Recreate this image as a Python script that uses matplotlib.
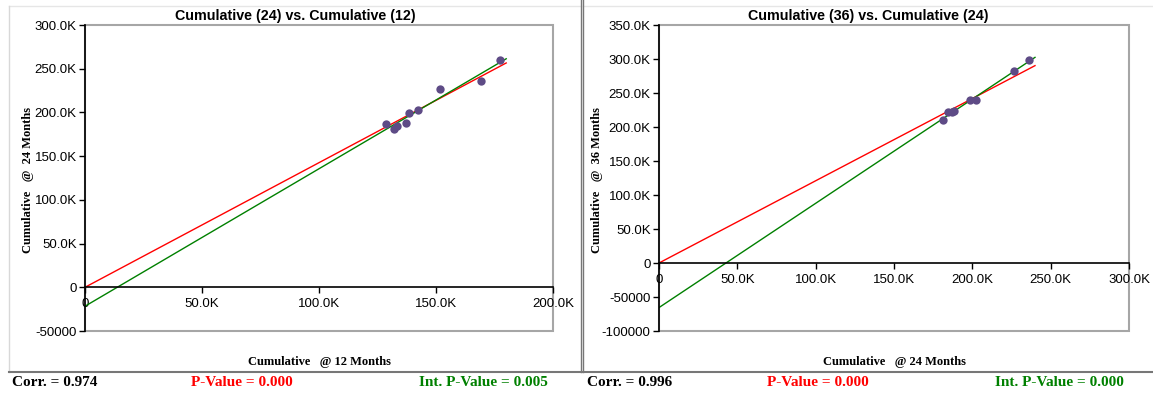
import numpy as np
import matplotlib
matplotlib.use("Agg")
import matplotlib.pyplot as plt
from matplotlib.patches import Rectangle
from matplotlib.ticker import FuncFormatter

# Left panel: cumulative @12 vs @24 months
x12 = [128.5e3, 132.1e3, 133.3e3, 137.2e3, 138.5e3, 142.5e3, 151.6e3, 169.1e3, 177.3e3]
y24 = [186.8e3, 181.5e3, 184.2e3, 188.0e3, 198.8e3, 202.6e3, 226.8e3, 236.0e3, 260.4e3]

# Right panel: cumulative @24 vs @36 months
x24 = [181.5e3, 184.2e3, 186.8e3, 188.0e3, 198.8e3, 202.6e3, 226.8e3, 236.0e3]
y36 = [209.8e3, 221.5e3, 222.5e3, 223.0e3, 239.0e3, 240.0e3, 282.0e3, 298.0e3]

titles = ["Cumulative (24) vs. Cumulative (12)", "Cumulative (36) vs. Cumulative (24)"]
xlabels = ["Cumulative   @ 12 Months", "Cumulative   @ 24 Months"]
ylabels = ["Cumulative   @  24 Months", "Cumulative   @  36 Months"]
corr_txt = ["Corr. = 0.974", "Corr. = 0.996"]
pval_txt = ["P-Value = 0.000", "P-Value = 0.000"]
ipval_txt = ["Int. P-Value = 0.005", "Int. P-Value = 0.000"]
fit_xmax = [180e3, 240e3]
ylims = [(-50e3, 300e3), (-100e3, 350e3)]
xlims = [(0, 200e3), (0, 300e3)]

W, H = 1153, 393
fig = plt.figure(figsize=(W / 100, H / 100), dpi=100)

def fx(px):
    return px / W

def fy(py):
    return 1 - py / H

def kfmt(v, pos):
    if v == 0:
        return "0"
    if v < 0:
        return f"{v:.0f}"
    return f"{v/1000:.1f}K"

axes_px = [(85, 553), (659, 1129)]
panel_px = [(9, 581), (583, 1153)]
TOP, BOT = 25, 331
data = [(x12, y24), (x24, y36)]

# panel frames
fig.add_artist(plt.Line2D([fx(9), fx(581)], [fy(6), fy(6)], color="#e6e6e6", lw=1))
fig.add_artist(plt.Line2D([fx(583), fx(1153)], [fy(6), fy(6)], color="#e6e6e6", lw=1))
fig.add_artist(plt.Line2D([fx(9), fx(9)], [fy(6), fy(372)], color="#d8d8d8", lw=1))
fig.add_artist(plt.Line2D([fx(580.5), fx(580.5)], [fy(0), fy(372)], color="#777777", lw=1))
fig.add_artist(plt.Line2D([fx(583.5), fx(583.5)], [fy(0), fy(372)], color="#777777", lw=1))
fig.add_artist(plt.Line2D([fx(9), fx(580.5)], [fy(372), fy(372)], color="#777777", lw=1.5))
fig.add_artist(plt.Line2D([fx(583.5), fx(1153)], [fy(372), fy(372)], color="#777777", lw=1.5))

stat_x = [(12, 191, 419), (587, 767, 995)]

for i in range(2):
    x0, x1 = axes_px[i]
    ax = fig.add_axes([fx(x0), fy(BOT), fx(x1 - x0), (BOT - TOP) / H])
    xs = np.array(data[i][0])
    ys = np.array(data[i][1])

    # regression lines: through origin (red) and with intercept (green)
    b0 = np.sum(xs * ys) / np.sum(xs * xs)
    b1, a1 = np.polyfit(xs, ys, 1)
    xl = np.array([0, fit_xmax[i]])
    ax.plot(xl, b0 * xl, color="#ff0000", lw=1, zorder=2)
    ax.plot(xl, a1 + b1 * xl, color="#008000", lw=1, zorder=2)
    ax.scatter(xs, ys, s=36, color="#5e4b86", zorder=3, linewidths=0)

    ax.set_xlim(*xlims[i])
    ax.set_ylim(*ylims[i])
    ax.set_xticks(np.arange(0, xlims[i][1] + 1, 50e3))
    ax.set_yticks(np.arange(ylims[i][0], ylims[i][1] + 1, 50e3))
    ax.xaxis.set_major_formatter(FuncFormatter(kfmt))
    ax.yaxis.set_major_formatter(FuncFormatter(kfmt))

    for s in ["top", "right"]:
        ax.spines[s].set_visible(False)
    ax.spines["left"].set_color("black")
    ax.spines["left"].set_linewidth(1.2)
    ax.spines["bottom"].set_position(("data", 0))
    ax.spines["bottom"].set_color("black")
    ax.spines["bottom"].set_linewidth(1.2)
    ax.add_patch(Rectangle((0, 0), 1, 1, transform=ax.transAxes, fill=False,
                           edgecolor="#a6a6a6", lw=1.5, clip_on=False, zorder=0))
    ax.tick_params(direction="out", length=4, width=1, labelsize=9.5,
                   labelfontfamily="Liberation Sans", pad=2)
    ax.tick_params(axis="x", pad=4)

    pc = (panel_px[i][0] + panel_px[i][1]) / 2
    fig.text(fx(pc), fy(16), titles[i], ha="center", va="center",
             family="Liberation Sans", weight="bold", fontsize=10.3)
    fig.text(fx((x0 + x1) / 2), fy(362), xlabels[i], ha="center", va="center",
             family="Liberation Serif", weight="bold", fontsize=9)
    ylx = 28 if i == 0 else 597
    fig.text(fx(ylx), fy(180), ylabels[i], ha="center", va="center", rotation=90,
             family="Liberation Serif", weight="bold", fontsize=9)

    sx = stat_x[i]
    fig.text(fx(sx[0]), fy(383), corr_txt[i], ha="left", va="center",
             family="Liberation Serif", weight="bold", fontsize=11, color="black")
    fig.text(fx(sx[1]), fy(383), pval_txt[i], ha="left", va="center",
             family="Liberation Serif", weight="bold", fontsize=11, color="#ff0000")
    fig.text(fx(sx[2]), fy(383), ipval_txt[i], ha="left", va="center",
             family="Liberation Serif", weight="bold", fontsize=11, color="#008000")

fig.savefig("out.png", dpi=100)
